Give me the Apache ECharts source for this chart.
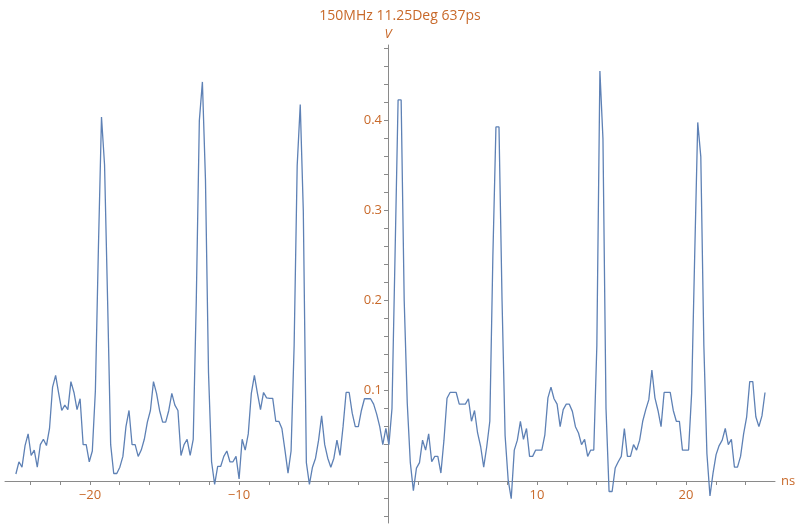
<!DOCTYPE html>
<html><head><meta charset="utf-8">
<script src="https://cdn.jsdelivr.net/npm/echarts@6/dist/echarts.min.js"></script>
<style>html,body{margin:0;padding:0;background:#fff}#c{width:800px;height:528px}</style>
</head><body><div id="c"></div>
<script>
const titleText = "150MHz 11.25Deg 637ps";
const xStart = -24.97, xEnd = 25.3;
const voltage = [
0.0074,0.021,0.015,0.039,0.052,0.028,0.034,0.015,0.040,0.046,0.039,0.058,0.104,0.117,0.097,0.078,0.084,0.079,0.110,0.098,0.079,0.091,0.040,0.040,0.021,0.033,
0.10,0.26,0.404,0.351,0.20,0.04,0.008,0.008,0.015,0.027,0.060,0.078,0.040,0.040,0.027,0.034,0.046,0.065,0.078,0.110,0.097,0.078,0.065,0.065,0.078,0.097,0.084,0.078,0.028,0.040,0.046,0.028,0.046,
0.20,0.40,0.443,0.335,0.12,0.021,-0.004,0.016,0.016,0.027,0.033,0.021,0.021,0.027,0.002,0.046,0.034,0.052,0.097,0.117,0.097,0.079,0.098,0.092,
0.0915,0.0915,0.066,0.066,0.058,0.034,0.0085,0.033,
0.15,0.35,0.418,0.30,0.02,-0.004,0.015,0.025,0.045,0.072,0.040,0.025,0.015,0.025,0.045,0.028,0.060,0.098,0.098,0.075,0.060,0.060,0.078,0.091,0.091,0.091,0.085,0.074,0.060,0.040,0.058,0.040,
0.08,0.25,0.423,0.423,0.20,0.086,0.02,-0.011,0.014,0.020,0.045,0.034,0.052,0.021,0.027,0.027,0.0085,0.045,0.0915,0.098,0.098,0.098,0.085,0.085,0.085,0.091,0.066,0.078,0.053,0.038,0.015,0.038,0.066,
0.25,0.393,0.393,0.20,0.05,0.001,-0.020,0.034,0.045,0.066,0.046,0.058,
0.027,0.027,0.034,0.034,0.034,0.051,0.092,0.104,0.091,0.085,0.060,0.079,0.085,0.085,0.077,0.060,0.053,0.040,0.046,0.027,0.034,0.034,
0.15,0.455,0.38,0.08,-0.012,-0.012,0.014,0.021,0.027,0.058,0.027,0.027,0.040,0.034,0.045,0.066,0.079,0.090,0.123,0.092,0.078,0.060,0.098,0.098,0.098,0.078,0.066,0.066,0.034,0.034,0.034,0.097,
0.25,0.398,0.36,0.15,0.03,-0.017,0.0085,0.029,0.039,0.045,0.058,0.040,0.046,0.015,0.015,0.027,0.052,0.071,0.110,0.110,0.071,0.060,0.072,0.098
];
const xTickValues = [-24,-22,-20,-18,-16,-14,-12,-10,-8,-6,-4,-2,2,4,6,8,10,12,14,16,18,20,22,24];
const xLabelValues = [-20,-10,10,20];
const yTickValues = [-0.04,-0.02,0.02,0.04,0.06,0.08,0.1,0.12,0.14,0.16,0.18,0.2,0.22,0.24,0.26,0.28,0.3,0.32,0.34,0.36,0.38,0.4,0.42,0.44,0.46,0.48];
const yLabelValues = [0.1,0.2,0.3,0.4];

const n = voltage.length;
const data = voltage.map((v,i)=>[xStart + (xEnd-xStart)*i/(n-1), v]);
const orange = '#c8692a', axisGray = '#8a8a8a';
const chart = echarts.init(document.getElementById('c'));
chart.setOption({
  animation:false,
  title:{text:titleText,left:'center',top:4,textStyle:{color:orange,fontSize:14,fontWeight:'normal',fontFamily:'Open Sans'}},
  grid:{left:5,right:25,top:45,bottom:5,containLabel:false,outerBoundsMode:'none'},
  xAxis:{type:'value',min:-25.7,max:25.97,name:'ns',nameGap:6,position:'bottom',offset:-42,
    nameTextStyle:{color:orange,fontSize:13,fontFamily:'Open Sans',verticalAlign:'middle'},
    axisLine:{onZero:false,lineStyle:{color:axisGray}},
    axisTick:{customValues:xTickValues,length:4,lineStyle:{color:axisGray}},
    axisLabel:{customValues:xLabelValues,color:orange,fontSize:13,fontFamily:'Open Sans',margin:8,
      formatter:v=>String(v).replace('-','\u2212')},
    splitLine:{show:false}},
  yAxis:{type:'value',min:-0.047,max:0.484,name:'V',nameGap:4,position:'left',offset:-383,
    nameTextStyle:{color:orange,fontSize:13,fontStyle:'italic',fontFamily:'Open Sans'},
    axisLine:{onZero:false,lineStyle:{color:axisGray}},
    axisTick:{customValues:yTickValues,length:4,lineStyle:{color:axisGray}},
    axisLabel:{customValues:yLabelValues,color:orange,fontSize:13,fontFamily:'Open Sans',margin:6},
    splitLine:{show:false}},
  series:[{type:'line',data:data,showSymbol:false,lineStyle:{color:'#5e81b5',width:1.3},itemStyle:{color:'#5e81b5'}}]
});
</script></body></html>
